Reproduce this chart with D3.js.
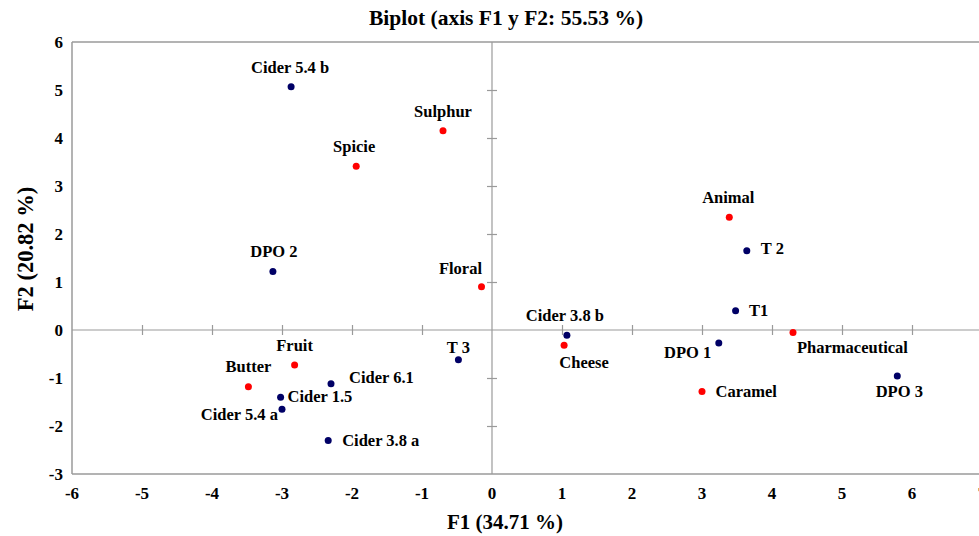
<!DOCTYPE html>
<html>
<head>
<meta charset="utf-8">
<script src="https://cdn.jsdelivr.net/npm/d3@7"></script>
<style>
  html, body { margin: 0; padding: 0; background: #fff; font-family: "Liberation Serif"; font-weight: bold; }
  svg { display: block; }
</style>
</head>
<body>
<svg id="chart" width="979" height="536"></svg>
<script>
// ---- data ----
const varNames = ["Sulphur", "Spicie", "Floral", "Fruit", "Butter", "Cheese", "Animal", "Pharmaceutical", "Caramel"];
const varF1    = [-0.70, -1.94, -0.15, -2.82, -3.48, 1.03, 3.39, 4.30, 3.00];
const varF2    = [4.15, 3.41, 0.90, -0.73, -1.18, -0.32, 2.35, -0.05, -1.28];

const obsNames = ["Cider 5.4 b", "DPO 2", "T 3", "Cider 6.1", "Cider 1.5", "Cider 5.4 a", "Cider 3.8 a", "Cider 3.8 b", "DPO 1", "T1", "T 2", "DPO 3"];
const obsF1    = [-2.87, -3.13, -0.48, -2.30, -3.02, -3.00, -2.34, 1.07, 3.24, 3.48, 3.64, 5.79];
const obsF2    = [5.07, 1.22, -0.62, -1.12, -1.40, -1.65, -2.30, -0.11, -0.27, 0.40, 1.65, -0.96];

const xTicks = [-6, -5, -4, -3, -2, -1, 0, 1, 2, 3, 4, 5, 6, 7];
const yTicks = [-3, -2, -1, 0, 1, 2, 3, 4, 5, 6];

const titleText = "Biplot (axis F1 y F2: 55.53 %)";
const xTitle = "F1 (34.71 %)";
const yTitle = "F2 (20.82 %)";

// label placement (anchor, dx, dy in px relative to point)
const labelPlace = {
  "Cider 5.4 b": ["middle", -1, -14],
  "Sulphur": ["middle", 0, -14],
  "Spicie": ["middle", -2, -14],
  "DPO 2": ["middle", 1, -14.5],
  "Floral": ["middle", -21, -13],
  "Fruit": ["middle", 0, -14],
  "Butter": ["middle", 0, -15],
  "Cider 6.1": ["start", 18, -1],
  "Cider 1.5": ["start", 7, 5],
  "Cider 5.4 a": ["end", -4, 11],
  "Cider 3.8 a": ["start", 14, 6],
  "T 3": ["middle", 0, -7],
  "Cider 3.8 b": ["middle", -2, -14.5],
  "Cheese": ["middle", 20, 23],
  "Animal": ["middle", -1, -14.5],
  "T 2": ["start", 14, 3.5],
  "T1": ["start", 13.5, 5],
  "DPO 1": ["end", -7.5, 15.5],
  "Pharmaceutical": ["start", 4, 20.5],
  "Caramel": ["start", 13.5, 5.5],
  "DPO 3": ["middle", 2, 21]
};

// ---- layout ----
const svg = d3.select("#chart");
const x = d3.scaleLinear().domain([-6, 7]).range([72, 982]);
const y = d3.scaleLinear().domain([-3, 6]).range([474, 42]);
const gray = "#9a9a9a";

// frame
[[x(-6), y(6), x(7), y(6)], [x(-6), y(-3), x(7), y(-3)], [x(-6), y(6), x(-6), y(-3)], [x(7), y(6), x(7), y(-3)]]
  .forEach(s => svg.append("line").attr("x1", s[0]).attr("y1", s[1]).attr("x2", s[2]).attr("y2", s[3])
    .attr("stroke", gray).attr("stroke-width", 1.5));

// central axes with ticks through origin
const xAxis = d3.axisBottom(x).tickValues(xTicks.filter(v => v !== 0 && v !== -6 && v !== 7))
  .tickSize(10).tickFormat("");
const gx = svg.append("g").attr("transform", `translate(0,${y(0) - 5})`).call(xAxis);
gx.attr("font-family", null).attr("font-size", null);
gx.select(".domain").remove();
gx.selectAll("text").remove();
gx.selectAll(".tick line").attr("stroke", gray).attr("stroke-width", 1.2);
svg.append("line").attr("x1", x(-6)).attr("x2", x(7)).attr("y1", y(0)).attr("y2", y(0))
  .attr("stroke", gray).attr("stroke-width", 1.2);

const yAxis = d3.axisLeft(y).tickValues(yTicks.filter(v => v !== 0 && v !== -3 && v !== 6))
  .tickSize(10).tickFormat("");
const gy = svg.append("g").attr("transform", `translate(${x(0) + 5},0)`).call(yAxis);
gy.attr("font-family", null).attr("font-size", null);
gy.select(".domain").remove();
gy.selectAll("text").remove();
gy.selectAll(".tick line").attr("stroke", gray).attr("stroke-width", 1.2);
svg.append("line").attr("x1", x(0)).attr("x2", x(0)).attr("y1", y(6)).attr("y2", y(-3))
  .attr("stroke", gray).attr("stroke-width", 1.2);

// tick labels
svg.append("g").selectAll("text").data(xTicks).join("text")
  .attr("x", d => x(d)).attr("y", 499)
  .attr("text-anchor", "middle").attr("font-size", 17)
  .text(d => d);
svg.append("g").selectAll("text").data(yTicks).join("text")
  .attr("x", 63).attr("y", d => y(d) + 6)
  .attr("text-anchor", "end").attr("font-size", 17)
  .text(d => d);

// titles
svg.append("text").attr("x", 506).attr("y", 25).attr("text-anchor", "middle")
  .attr("font-size", 21.5).text(titleText);
svg.append("text").attr("x", 505).attr("y", 529).attr("text-anchor", "middle")
  .attr("font-size", 21).text(xTitle);
svg.append("text").attr("transform", "translate(33,249) rotate(-90)").attr("text-anchor", "middle")
  .attr("font-size", 22.5).text(yTitle);

// points
const vars = varNames.map((n, i) => ({ name: n, f1: varF1[i], f2: varF2[i], color: "#ff0000" }));
const obs = obsNames.map((n, i) => ({ name: n, f1: obsF1[i], f2: obsF2[i], color: "#000066" }));
const all = obs.concat(vars);

svg.append("g").selectAll("circle").data(all).join("circle")
  .attr("cx", d => x(d.f1)).attr("cy", d => y(d.f2)).attr("r", 3.5)
  .attr("fill", d => d.color);

svg.append("g").selectAll("text").data(all).join("text")
  .attr("x", d => x(d.f1) + labelPlace[d.name][1])
  .attr("y", d => y(d.f2) + labelPlace[d.name][2])
  .attr("text-anchor", d => labelPlace[d.name][0])
  .attr("font-size", 16.5)
  .text(d => d.name);
</script>
</body>
</html>
